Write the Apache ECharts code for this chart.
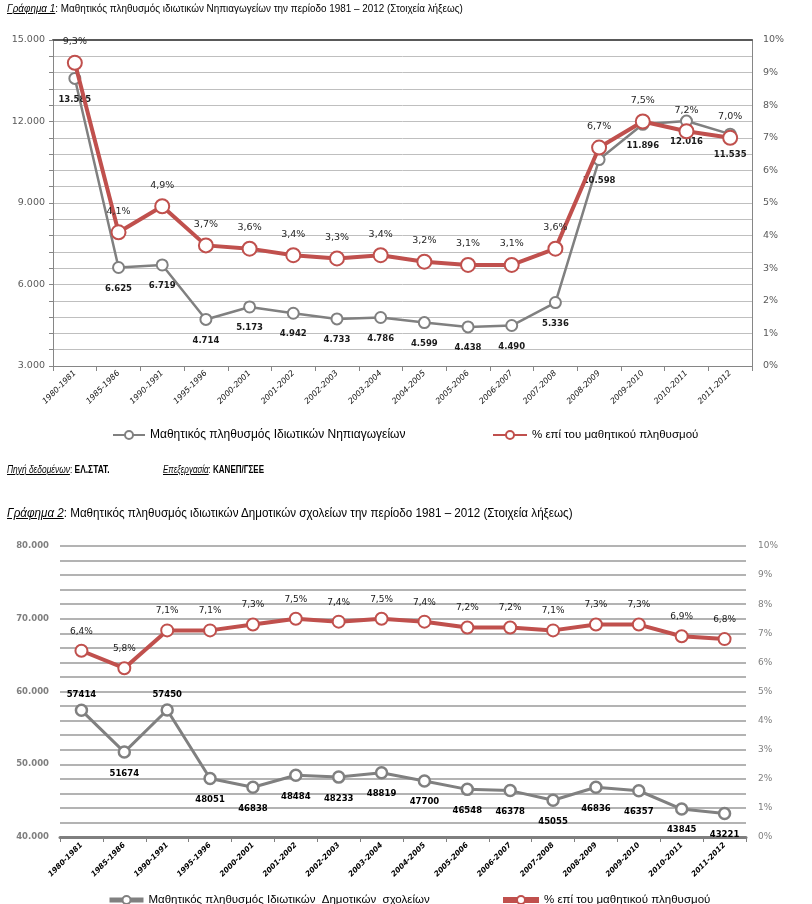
<!DOCTYPE html>
<html>
<head>
<meta charset="utf-8">
<script src="https://cdn.jsdelivr.net/npm/echarts@6/dist/echarts.min.js"></script>
<style>
  html, body { margin: 0; padding: 0; background: #fff; }
  #wrap { position: relative; width: 812px; height: 904px; }
  #chart { position: absolute; left: 0; top: 0; width: 812px; height: 904px; }
  .t { position: absolute; white-space: nowrap; font-family: 'Liberation Sans', sans-serif; color: #000; transform-origin: 0 50%; }
  .t u { font-style: italic; }
</style>
</head>
<body>
<div id="wrap">
  <div id="chart"></div>
  <div class="t" style="left:7px; top:2px; font-size:11px; transform:scaleX(0.9);"><u>Γράφημα 1</u>: Μαθητικός πληθυσμός ιδιωτικών Νηπιαγωγείων την περίοδο 1981 – 2012 (Στοιχεία λήξεως)</div>
  <div class="t" style="left:7px; top:464px; font-size:10px; transform:scaleX(0.84);"><u>Πηγή δεδομένων</u>: <b>ΕΛ.ΣΤΑΤ.</b></div>
  <div class="t" style="left:163px; top:464px; font-size:10px; transform:scaleX(0.8);"><u>Επεξεργασία</u>: <b>ΚΑΝΕΠ/ΓΣΕΕ</b></div>
  <div class="t" style="left:7px; top:506px; font-size:12px; transform:scaleX(0.97);"><u>Γράφημα 2</u>: Μαθητικός πληθυσμός ιδιωτικών Δημοτικών σχολείων την περίοδο 1981 – 2012 (Στοιχεία λήξεως)</div>
</div>
<script>
const categories = ['1980-1981','1985-1986','1990-1991','1995-1996','2000-2001','2001-2002','2002-2003','2003-2004','2004-2005','2005-2006','2006-2007','2007-2008','2008-2009','2009-2010','2010-2011','2011-2012'];
const kgStudents = [13585, 6625, 6719, 4714, 5173, 4942, 4733, 4786, 4599, 4438, 4490, 5336, 10598, 11896, 12016, 11535];
const kgShare = [9.3, 4.1, 4.9, 3.7, 3.6, 3.4, 3.3, 3.4, 3.2, 3.1, 3.1, 3.6, 6.7, 7.5, 7.2, 7.0];
const primStudents = [57414, 51674, 57450, 48051, 46838, 48484, 48233, 48819, 47700, 46548, 46378, 45055, 46836, 46357, 43845, 43221];
const primShare = [6.4, 5.8, 7.1, 7.1, 7.3, 7.5, 7.4, 7.5, 7.4, 7.2, 7.2, 7.1, 7.3, 7.3, 6.9, 6.8];
const primLabelAbove = [0, 2];

const kgName = 'Μαθητικός πληθυσμός Ιδιωτικών Νηπιαγωγείων';
const primName = 'Μαθητικός πληθυσμός Ιδιωτικών  Δημοτικών  σχολείων';
const shareName1 = '% επί του μαθητικού πληθυσμού';
const shareName2 = '% επί του μαθητικού πληθυσμού ';

const thou = v => String(v).replace(/\B(?=(\d{3})+(?!\d))/g, '.');
const pct = v => v.toFixed(1).replace('.', ',') + '%';

const FONT = 'DejaVu Sans';
const LEGFONT = "'Liberation Sans', sans-serif";
const GRAY = '#808080';
const RED = '#C0504D';

const chart = echarts.init(document.getElementById('chart'), null, { renderer: 'canvas' });

const option = {
  animation: false,
  backgroundColor: '#fff',
  grid: [
    { left: 53, top: 40, width: 699, height: 326 },
    { left: 60, top: 546, width: 686, height: 291 }
  ],
  legend: [
    { data: [kgName], left: 107, top: 424, itemWidth: 32, itemHeight: 10, itemGap: 4,
      textStyle: { fontFamily: LEGFONT, fontSize: 12, color: '#000' } },
    { data: [shareName1], left: 487, top: 424, itemWidth: 34, itemHeight: 10,
      textStyle: { fontFamily: LEGFONT, fontSize: 11.5, color: '#000' } },
    { data: [primName], left: 102, top: 889, itemWidth: 34, itemHeight: 10,
      lineStyle: { width: 5 },
      textStyle: { fontFamily: LEGFONT, fontSize: 11.5, color: '#000' } },
    { data: [shareName2], left: 495, top: 889, itemWidth: 36, itemHeight: 10,
      lineStyle: { width: 6 },
      textStyle: { fontFamily: LEGFONT, fontSize: 11.5, color: '#000' } }
  ],
  xAxis: [
    { type: 'category', gridIndex: 0, data: categories, boundaryGap: true,
      axisLine: { lineStyle: { color: '#868686', width: 1 } },
      axisTick: { show: true, length: 5, interval: 0, lineStyle: { color: '#868686' } },
      axisLabel: { interval: 0, rotate: 45, fontFamily: FONT, fontStyle: 'italic', fontSize: 8, color: '#111', margin: 6 } },
    { type: 'category', gridIndex: 0, data: categories, position: 'top',
      axisLine: { lineStyle: { color: '#595959', width: 2 } },
      axisTick: { show: false }, axisLabel: { show: false } },
    { type: 'category', gridIndex: 1, data: categories, boundaryGap: true,
      axisLine: { lineStyle: { color: '#7f7f7f', width: 3 } },
      axisTick: { show: true, length: 5, interval: 0, lineStyle: { color: '#7f7f7f', width: 1 } },
      axisLabel: { interval: 0, rotate: 45, fontFamily: FONT, fontStyle: 'italic', fontWeight: 'bold', fontSize: 7.5, color: '#000', margin: 7 } }
  ],
  yAxis: [
    { type: 'value', gridIndex: 0, min: 3000, max: 15000, interval: 600, position: 'left',
      axisLine: { show: true, lineStyle: { color: '#868686' } },
      axisTick: { show: true, length: 4, lineStyle: { color: '#868686' } },
      axisLabel: { fontFamily: FONT, fontSize: 9.5, color: '#595959', margin: 8,
        formatter: v => (v % 3000 === 0 ? thou(v) : '') },
      splitLine: { show: true, lineStyle: { color: '#bfbfbf', width: 1 } } },
    { type: 'value', gridIndex: 0, min: 0, max: 10, interval: 0.5, position: 'right',
      axisLine: { show: true, lineStyle: { color: '#868686' } },
      axisTick: { show: false },
      axisLabel: { fontFamily: FONT, fontSize: 9.5, color: '#595959', margin: 11,
        formatter: v => (Math.abs(v - Math.round(v)) < 1e-9 ? Math.round(v) + '%' : '') },
      splitLine: { show: false } },
    { type: 'value', gridIndex: 1, min: 40000, max: 80000, interval: 2000, position: 'left',
      axisLine: { show: false }, axisTick: { show: false },
      axisLabel: { fontFamily: FONT, fontSize: 8.5, fontWeight: 'bold', color: '#7f7f7f', margin: 11,
        formatter: v => (v % 10000 === 0 ? thou(v) : '') },
      splitLine: { show: true, lineStyle: { color: '#b3b3b3', width: 2 } } },
    { type: 'value', gridIndex: 1, min: 0, max: 10, interval: 0.5, position: 'right',
      axisLine: { show: false }, axisTick: { show: false },
      axisLabel: { fontFamily: FONT, fontSize: 9, color: '#7f7f7f', margin: 12,
        formatter: v => (Math.abs(v - Math.round(v)) < 1e-9 ? Math.round(v) + '%' : '') },
      splitLine: { show: false } }
  ],
  series: [
    { name: kgName, type: 'line', xAxisIndex: 0, yAxisIndex: 0, data: kgStudents,
      symbol: 'circle', symbolSize: 11, z: 3,
      lineStyle: { color: GRAY, width: 2.5 },
      itemStyle: { color: '#fff', borderColor: GRAY, borderWidth: 2 },
      label: { show: true, position: 'bottom', distance: 10, formatter: p => thou(p.value),
        fontFamily: FONT, fontWeight: 'bold', fontSize: 8.5, color: '#1a1a1a' } },
    { name: shareName1, type: 'line', xAxisIndex: 0, yAxisIndex: 1, data: kgShare,
      symbol: 'circle', symbolSize: 14, z: 4,
      lineStyle: { color: RED, width: 4 },
      itemStyle: { color: '#fff', borderColor: RED, borderWidth: 2 },
      label: { show: true, position: 'top', distance: 8, formatter: p => pct(p.value),
        fontFamily: FONT, fontSize: 9.5, color: '#262626' } },
    { name: primName, type: 'line', xAxisIndex: 2, yAxisIndex: 2,
      data: primStudents.map((v, i) => primLabelAbove.includes(i) ? { value: v, label: { position: 'top', distance: 4 } } : v),
      symbol: 'circle', symbolSize: 11, z: 3,
      lineStyle: { color: GRAY, width: 3 },
      itemStyle: { color: '#fff', borderColor: GRAY, borderWidth: 2.5 },
      label: { show: true, position: 'bottom', distance: 10, formatter: p => String(p.value),
        fontFamily: FONT, fontWeight: 'bold', fontSize: 8.5, color: '#000' } },
    { name: shareName2, type: 'line', xAxisIndex: 2, yAxisIndex: 3, data: primShare,
      symbol: 'circle', symbolSize: 12, z: 4,
      lineStyle: { color: RED, width: 4 },
      itemStyle: { color: '#fff', borderColor: RED, borderWidth: 2 },
      label: { show: true, position: 'top', distance: 8, formatter: p => pct(p.value),
        fontFamily: FONT, fontSize: 9, color: '#1a1a1a' } }
  ]
};
chart.setOption(option);
</script>
</body>
</html>
